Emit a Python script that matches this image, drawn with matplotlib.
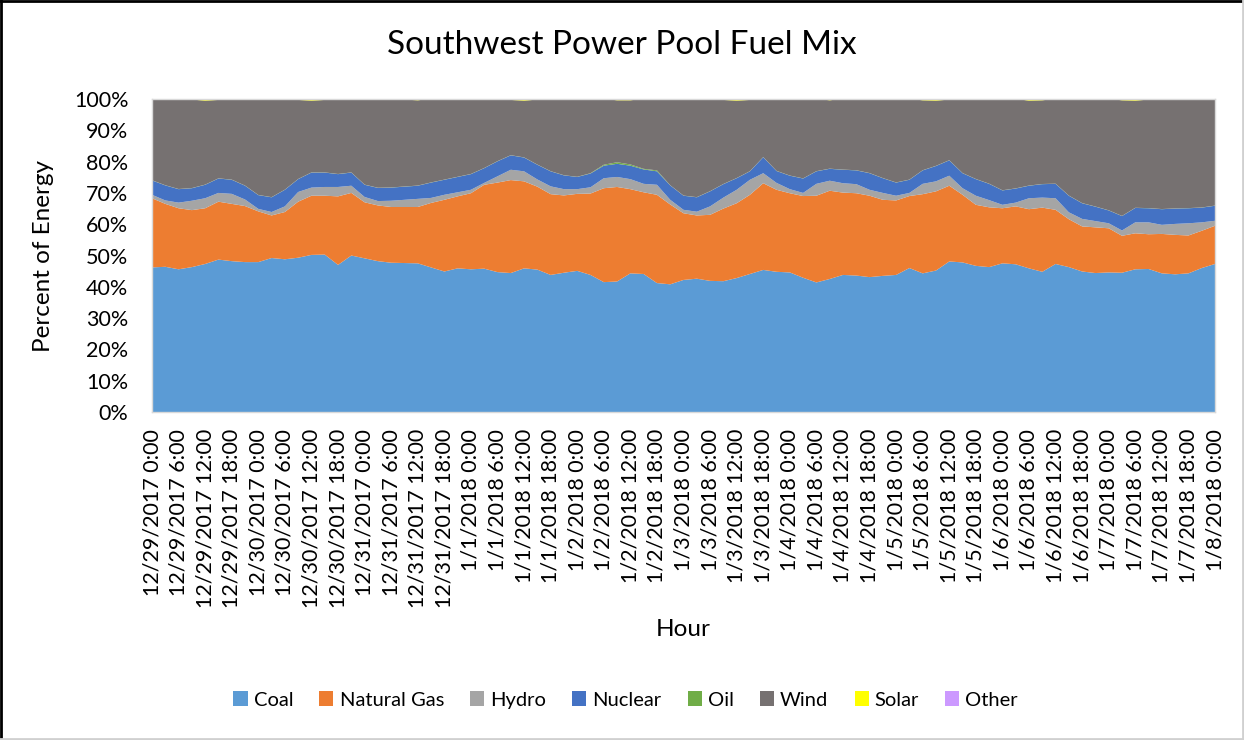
import matplotlib
matplotlib.use("Agg")
import matplotlib.pyplot as plt
from matplotlib.lines import Line2D
from matplotlib.ticker import FuncFormatter
import numpy as np
import pandas as pd


# -----------------------------
# Data (every 3 hours)
# -----------------------------

hours = list(range(0, 241, 3))

# upper edge of each band, % of energy
coal_top = [
    46.2, 46.4, 45.6, 46.3, 47.3, 48.7, 48.2, 47.9, 47.9, 49.2, 48.8, 49.3, 50.2, 50.3, 47.0, 50.0, 49.1, 48.2, 47.7, 47.6, 47.5,
    46.2, 44.9, 45.9, 45.6, 45.8, 44.7, 44.4, 45.9, 45.5, 43.8, 44.5, 45.1, 43.8, 41.5, 41.7, 44.3, 44.1, 41.2, 40.8,
    42.2, 42.6, 41.9, 41.8, 42.8, 44.1, 45.4, 44.8, 44.6, 42.9, 41.4, 42.5, 43.8, 43.6, 43.1, 43.5, 43.8, 46.0, 44.3, 45.2,
    48.1, 47.8, 46.7, 46.3, 47.5, 47.2, 45.9, 44.8, 47.3, 46.3, 44.9, 44.4, 44.6, 44.5, 45.6, 45.7, 44.3, 44.0, 44.3, 46.0, 47.3,
]
gas_top = [
    68.3, 66.5, 65.1, 64.5, 65.1, 67.2, 66.5, 65.8, 64.1, 62.8, 63.9, 67.2, 69.1, 69.1, 68.9, 70.0, 67.0, 66.0, 65.5, 65.5, 65.5,
    66.8, 67.8, 68.9, 69.9, 72.6, 73.3, 74.1, 73.7, 72.0, 69.6, 69.2, 69.7, 69.8, 71.5, 71.9, 71.2, 70.2, 69.4, 66.3,
    63.5, 62.8, 63.0, 65.0, 66.7, 69.4, 73.1, 71.0, 69.9, 69.0, 69.1, 70.7, 70.1, 69.9, 69.1, 67.8, 67.6, 69.0, 69.6, 70.5,
    72.3, 69.4, 66.2, 65.4, 65.1, 65.7, 64.8, 65.3, 64.6, 61.6, 59.3, 59.0, 58.7, 56.3, 57.1, 56.8, 56.9, 56.6, 56.4, 57.9, 59.5,
]
hydro_top = [
    69.4, 67.6, 66.9, 67.5, 68.3, 70.0, 69.7, 67.9, 64.9, 63.9, 65.7, 70.3, 71.7, 71.9, 71.9, 72.3, 68.7, 67.4, 67.5, 67.8, 68.1,
    68.4, 69.4, 70.2, 71.0, 73.2, 75.3, 77.4, 76.9, 74.3, 72.1, 71.2, 71.2, 71.8, 74.7, 75.1, 74.4, 72.9, 72.6, 67.8,
    64.6, 64.0, 65.7, 68.5, 71.0, 74.2, 76.3, 73.2, 71.2, 70.0, 72.9, 73.9, 73.1, 72.8, 71.0, 70.0, 69.1, 70.0, 72.9, 73.7,
    75.5, 71.5, 69.1, 67.7, 66.2, 66.9, 68.3, 68.5, 68.3, 63.8, 61.7, 61.0, 60.3, 58.0, 60.6, 60.6, 59.8, 60.1, 60.3, 60.6, 61.1,
]
nuclear_top = [
    74.0, 72.4, 71.2, 71.5, 72.6, 74.6, 74.2, 72.3, 69.3, 68.6, 71.0, 74.4, 76.5, 76.5, 76.0, 76.5, 72.6, 71.6, 71.7, 72.0, 72.3,
    73.3, 74.2, 75.1, 76.0, 77.9, 80.1, 82.0, 81.3, 79.0, 76.9, 75.6, 75.1, 76.2, 78.7, 79.3, 78.7, 77.5, 76.9, 72.4,
    69.1, 68.6, 70.5, 72.8, 74.7, 76.9, 81.4, 77.0, 75.5, 74.6, 76.9, 77.7, 77.4, 77.2, 76.3, 74.7, 73.3, 74.2, 77.2, 78.6,
    80.4, 76.3, 74.4, 72.9, 70.8, 71.4, 72.3, 72.8, 72.9, 69.1, 66.7, 65.6, 64.4, 62.6, 65.2, 65.1, 64.8, 65.0, 65.1, 65.3, 65.9,
]

# small shares, % of energy
oil = [
    0.05, 0.05, 0.05, 0.05, 0.05, 0.05, 0.05, 0.05, 0.05, 0.05, 0.05, 0.05, 0.05, 0.05, 0.05, 0.05, 0.05, 0.05, 0.05, 0.05, 0.05,
    0.05, 0.05, 0.05, 0.05, 0.05, 0.05, 0.05, 0.05, 0.05, 0.05, 0.05, 0.05, 0.1, 0.3, 0.5, 0.4, 0.2, 0.3, 0.05,
    0.05, 0.05, 0.05, 0.05, 0.05, 0.05, 0.05, 0.05, 0.05, 0.05, 0.05, 0.05, 0.05, 0.05, 0.05, 0.05, 0.05, 0.05, 0.05, 0.05,
    0.05, 0.05, 0.05, 0.05, 0.05, 0.05, 0.05, 0.05, 0.05, 0.05, 0.05, 0.05, 0.05, 0.05, 0.05, 0.05, 0.05, 0.05, 0.05, 0.05, 0.05,
]
solar = [
    0.0, 0.0, 0.0, 0.2, 0.5, 0.3, 0.0, 0.0, 0.0, 0.0, 0.0, 0.3, 0.5, 0.3, 0.0, 0.0, 0.0, 0.0, 0.0, 0.2, 0.4,
    0.0, 0.0, 0.0, 0.0, 0.0, 0.0, 0.3, 0.5, 0.2, 0.0, 0.0, 0.0, 0.0, 0.0, 0.4, 0.4, 0.0, 0.0, 0.0,
    0.0, 0.0, 0.0, 0.3, 0.5, 0.3, 0.0, 0.0, 0.0, 0.0, 0.0, 0.4, 0.0, 0.0, 0.0, 0.0, 0.0, 0.0, 0.4, 0.5,
    0.2, 0.0, 0.0, 0.0, 0.0, 0.0, 0.5, 0.4, 0.0, 0.0, 0.0, 0.2, 0.0, 0.4, 0.5, 0.2, 0.3, 0.3, 0.0, 0.0, 0.0,
]
other = [0.0] * len(hours)

fuel_names = ["Coal", "Natural Gas", "Hydro", "Nuclear", "Oil", "Wind", "Solar", "Other"]
fuel_colors = ["#5B9BD5", "#ED7D31", "#A5A5A5", "#4472C4", "#70AD47", "#767171", "#FFFF00", "#CC99FF"]

tick_times = pd.date_range("2017-12-29 00:00", "2018-01-08 00:00", freq="6h")
tick_labels = [f"{t.month}/{t.day}/{t.year} {t.hour}:00" for t in tick_times]
tick_hours = list(range(0, 241, 6))


# -----------------------------
# Shares per fuel
# -----------------------------

coal = np.array(coal_top)
gas = np.array(gas_top) - np.array(coal_top)
hydro = np.array(hydro_top) - np.array(gas_top)
nuclear = np.array(nuclear_top) - np.array(hydro_top)
oil = np.array(oil)
solar = np.array(solar)
other = np.array(other)
wind = 100 - np.array(nuclear_top) - oil - solar - other

shares = [coal, gas, hydro, nuclear, oil, wind, solar, other]


# -----------------------------
# Chart
# -----------------------------

plt.rcParams["font.family"] = ["Lato", "DejaVu Sans"]

fig = plt.figure(figsize=(12.44, 7.4), dpi=100)
ax = fig.add_axes([0.1222, 0.4432, 0.8545, 0.4230])

ax.stackplot(hours, *shares, labels=fuel_names, colors=fuel_colors, linewidth=0)

ax.set_xlim(0, 240)
ax.set_ylim(0, 100)
ax.set_yticks(range(0, 101, 10))
ax.yaxis.set_major_formatter(FuncFormatter(lambda v, _: f"{v:.0f}%"))
ax.set_xticks(tick_hours)
ax.set_xticklabels(tick_labels, rotation=90, ha="center", va="top")
ax.tick_params(axis="both", length=0, labelsize=15.5, colors="black")
ax.tick_params(axis="x", pad=12)
ax.tick_params(axis="y", pad=17)

for spine in ax.spines.values():
    spine.set_color("#D9D9D9")
    spine.set_linewidth(1)

ax.set_ylabel("Percent of Energy", fontsize=17.5)
ax.yaxis.set_label_coords(-0.092, 0.5)
fig.text(0.549, 0.149, "Hour", ha="center", va="center", fontsize=17.5)
fig.text(0.5, 0.939, "Southwest Power Pool Fuel Mix", ha="center", va="center", fontsize=24)

handles, labels = ax.get_legend_handles_labels()
fig.legend(
    handles,
    labels,
    loc="center",
    bbox_to_anchor=(0.503, 0.054),
    ncol=8,
    frameon=False,
    fontsize=14.5,
    handlelength=0.7,
    handleheight=0.7,
    handletextpad=0.3,
    columnspacing=1.3,
)

# screenshot frame
fig.add_artist(Line2D([0.001, 0.001], [0, 1], color="black", linewidth=2, transform=fig.transFigure))
fig.add_artist(Line2D([0, 1], [0.999, 0.999], color="black", linewidth=2, transform=fig.transFigure))
fig.add_artist(Line2D([0.999, 0.999], [0, 1], color="#D0D0D0", linewidth=2, transform=fig.transFigure))
fig.add_artist(Line2D([0, 1], [0.001, 0.001], color="#D0D0D0", linewidth=2, transform=fig.transFigure))

fig.savefig("out.png", dpi=100)
